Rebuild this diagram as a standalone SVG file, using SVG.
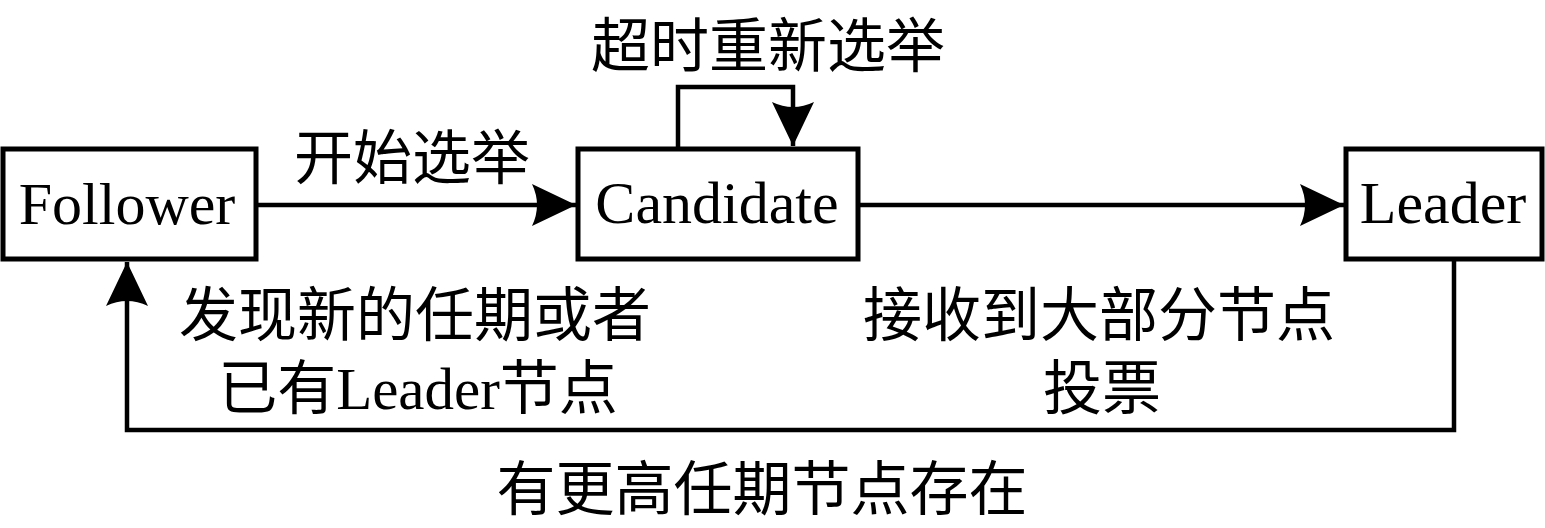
<svg xmlns="http://www.w3.org/2000/svg" width="1545" height="528" viewBox="0 0 1545 528">
<style>
.box{fill:#fff;stroke:#000;stroke-width:5}
.conn{fill:none;stroke:#000;stroke-width:4.5}
.en{font-family:"Liberation Serif","Noto Sans CJK SC",serif;font-size:60px;fill:#000;text-anchor:middle}
.zh{font-family:"Liberation Serif","Noto Sans CJK SC",serif;font-size:59px;fill:#000;text-anchor:middle}
</style>
<defs>
<marker id="ah" viewBox="-46 -23 48 46" refX="0" refY="0" markerWidth="48" markerHeight="46" markerUnits="userSpaceOnUse" orient="auto">
<path d="M0,0 L-44,-21 Q-34,0 -44,21 Z" fill="#000"/>
</marker>
</defs>
<g id="connectors">
<path class="conn" d="M256,205 H576" marker-end="url(#ah)"/>
<path class="conn" d="M858,205 H1344" marker-end="url(#ah)"/>
<path class="conn" d="M678,148 V87 H793 V146" marker-end="url(#ah)"/>
<path class="conn" d="M1454,258 V430 H127 V262" marker-end="url(#ah)"/>
</g>
<g id="node-follower">
<rect class="box" x="3" y="149" width="253" height="110"/>
<text class="en" x="127" y="224">Follower</text>
</g>
<g id="node-candidate">
<rect class="box" x="578" y="149" width="280" height="110"/>
<text class="en" x="717" y="223">Candidate</text>
</g>
<g id="node-leader">
<rect class="box" x="1346" y="149" width="196" height="110"/>
<text class="en" x="1443" y="223">Leader</text>
</g>
<g id="labels">
<text class="zh" x="412" y="179">开始选举</text>
<text class="zh" x="768" y="67">超时重新选举</text>
<text class="zh" x="415" y="336">发现新的任期或者</text>
<text class="zh" x="418" y="409">已有Leader节点</text>
<text class="zh" x="1099" y="336">接收到大部分节点</text>
<text class="zh" x="1102" y="409">投票</text>
<text class="zh" x="762" y="510">有更高任期节点存在</text>
</g>
</svg>
